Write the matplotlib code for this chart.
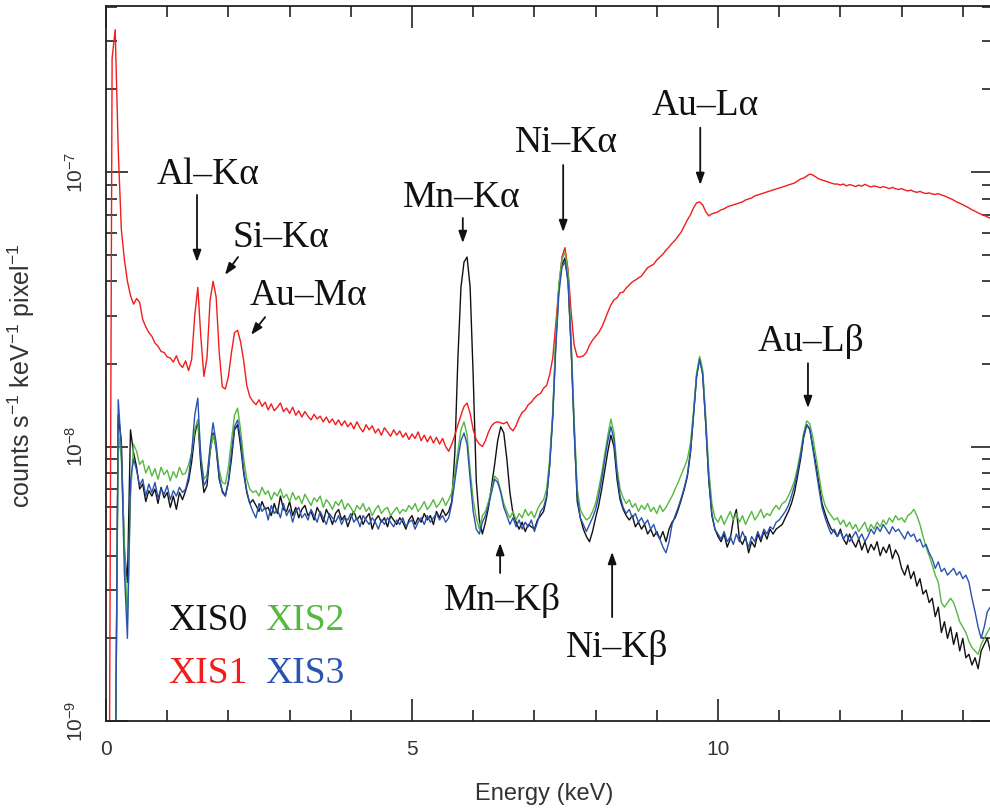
import numpy as np
import matplotlib
matplotlib.use("Agg")
import matplotlib.pyplot as plt
from matplotlib.ticker import LogLocator, MultipleLocator, NullFormatter

# bin width of the spectra (keV); values below are in units of 1e-9 counts/s/keV/pixel
bin_kev = 0.05

# XIS1 (red), one row = 0.5 keV
xis1 = [
    0.3, 0.3, 260, 330, 120, 62, 48, 40, 35.5, 33,
    34.6, 33.5, 29, 27.3, 26, 25.2, 23.8, 23.2, 22.2, 22.0,
    21.2, 21.0, 20.3, 21.4, 20.0, 19.4, 20.5, 18.9, 20.8, 30,
    38, 25, 18, 21, 34, 40, 35, 22, 16.5, 16.2,
    18, 22, 26, 26.5, 24, 20.5, 16.7, 15.2, 14.6, 14.2,
    14.8, 14.0, 14.5, 13.6, 14.3, 13.5, 13.9, 14.4, 13.4, 13.8,
    13.2, 13.9, 13.0, 13.5, 12.8, 13.4, 12.9, 12.5, 13.1, 12.6,
    12.9, 12.3, 12.8, 12.2, 12.6, 12.0, 12.5, 11.9, 12.4, 11.8,
    12.2, 11.6, 12.3, 11.7, 11.3, 12.0, 11.5, 11.9, 11.2, 11.6,
    11.0, 11.7, 11.3, 10.9, 11.5, 11.0, 11.4, 10.8, 11.2, 10.6,
    11.1, 10.7, 11.3, 10.5, 11.0, 10.4, 10.9, 10.3, 10.8, 10.2,
    10.7, 10.0, 9.6, 10.2, 11.0, 12.0, 13.0, 14.0, 14.4, 13.2,
    11.5, 10.6, 10.2, 10.0, 10.5, 11.3, 11.9, 12.2, 12.3, 12.2,
    12.1, 12.3, 11.7, 11.4, 11.9, 12.7, 13.3, 13.6, 14.2, 14.5,
    15.0, 15.4, 15.6, 16.3, 16.7, 18.3, 21, 28, 38, 49,
    53, 44, 31, 23.4, 21.2, 21.2, 21.4, 22.0, 23.4, 24.4,
    25.2, 26.0, 27.2, 28.9, 30.9, 32.8, 34.2, 34.8, 36.3, 36.5,
    37.8, 38.8, 39.8, 40.4, 41.1, 41.8, 43.3, 44.8, 45.5, 46.2,
    47.8, 49.0, 50.2, 51.9, 53.3, 55.0, 56.5, 58.4, 60.5, 63.6,
    66.9, 69.8, 74.0, 77.2, 77.8, 75.9, 71.6, 69.2, 70.4, 71.0,
    71.6, 72.8, 73.4, 74.6, 75.3, 75.9, 76.5, 77.2, 77.8, 79.1,
    79.8, 80.4, 81.8, 82.5, 83.2, 83.9, 84.6, 85.3, 86.0, 86.7,
    87.5, 88.2, 88.9, 89.7, 90.4, 91.2, 92.7, 94.3, 95.1, 96.7,
    98.3, 97.5, 95.9, 94.3, 93.5, 92.7, 91.9, 91.2, 90.4, 90.4,
    89.7, 90.4, 89.0, 90.0, 89.3, 88.5, 89.6, 88.8, 90.2, 89.1,
    88.2, 89.0, 88.4, 87.6, 88.5, 87.8, 87.0, 87.9, 86.9, 86.3,
    87.0, 86.0, 85.3, 85.9, 84.9, 84.3, 85.0, 84.0, 83.5, 83.9,
    83.2, 82.8, 83.4, 82.5, 81.8, 80.9, 80.0, 79.0, 77.8, 77.0,
    76.0, 75.0, 74.0, 72.8, 72.0, 71.0, 70.2, 69.5, 68.6, 67.8,
    67.2,
]

# XIS0 (black)
xis0 = [
    0.3, 0.3, 0.3, 0.5, 13, 10.5, 4.2, 3.2, 11.5, 9.5,
    8.4, 7.0, 7.3, 6.3, 6.9, 6.6, 7.0, 6.2, 7.1, 6.5,
    6.8, 6.0, 6.6, 5.9, 6.8, 6.4, 6.9, 7.5, 8.8, 11.0,
    12.5, 8.5, 6.8, 7.2, 9.5, 11.2, 9.8, 7.6, 6.9, 6.6,
    7.4, 9.0, 11.5, 12.0, 10.0, 8.0, 6.8, 6.2, 6.4, 6.1,
    5.8, 6.3, 5.9, 6.0, 5.6, 6.2, 5.7, 6.6, 5.9, 5.8,
    6.3, 5.6, 6.0, 5.5, 5.9, 6.1, 5.6, 5.8, 5.4, 6.0,
    5.7, 5.3, 5.9, 5.6, 5.2, 5.7, 5.9, 5.4, 5.6, 5.1,
    5.5, 5.8, 5.4, 5.6, 5.2, 5.5, 5.7, 5.0, 5.4, 5.6,
    5.3, 5.5, 5.1, 5.6, 5.4, 5.2, 5.5, 5.3, 5.0, 5.4,
    5.6, 5.2, 5.5, 5.3, 5.7, 5.4, 5.6, 5.2, 5.8, 5.5,
    5.9, 5.6, 5.8, 6.3, 9.5, 21, 38, 47, 49, 38,
    18, 7.5, 5.4, 4.8, 5.3, 6.0, 7.2, 8.6, 10.5, 11.8,
    11.2, 9.0, 6.8, 5.7, 5.3, 5.0, 5.3, 4.9, 5.2, 5.1,
    5.0, 5.4, 5.6, 5.8, 6.5, 8.7, 13, 24, 38, 46,
    48.6, 40, 23, 11.5, 6.3, 5.5, 5.0, 4.7, 4.5, 4.9,
    5.5, 6.1, 7.0, 8.2, 9.6, 11.0, 10.0, 7.6, 6.4, 5.9,
    5.6, 5.4, 5.6, 5.1, 5.3, 5.0, 5.2, 4.8, 5.0, 4.7,
    4.9, 4.6, 4.9, 4.5, 5.0, 5.3, 5.5, 5.9, 6.4, 7.0,
    7.8, 9.5, 13.0, 18.0, 21.0, 18.5, 12.0, 7.5, 5.6, 5.0,
    4.7, 4.5, 4.8, 4.3, 4.6, 5.4, 5.9, 4.6, 4.4, 4.7,
    4.1, 4.5, 4.3, 4.8, 4.5, 4.9, 4.6, 5.0, 4.8, 5.0,
    5.1, 5.2, 5.5, 5.8, 6.2, 6.8, 7.8, 9.0, 10.8, 12.0,
    11.6, 10.0, 8.6, 7.3, 6.2, 5.7, 5.3, 5.0, 4.9, 4.7,
    5.0, 4.6, 4.4, 4.8, 4.5, 4.3, 4.6, 4.2, 4.5, 4.1,
    4.4, 4.2, 4.5, 4.0, 4.3, 4.1, 4.4, 3.9, 4.2, 4.0,
    3.6, 3.4, 3.7, 3.3, 3.5, 3.1, 3.3, 2.9, 3.0, 2.7,
    2.8, 2.4, 2.6, 2.1, 2.3, 2.0, 2.2, 1.9, 2.1, 1.8,
    2.0, 1.7, 1.75, 1.6, 1.7, 1.55, 1.8, 1.9, 2.0, 1.8,
    1.9,
]

# XIS2 (green)
xis2 = [
    0.3, 0.3, 0.3, 0.5, 11.5, 9.0, 4.5, 2.3, 6.5, 10.2,
    9.6, 8.6, 8.9, 8.0, 8.5, 7.8, 8.3, 7.6, 8.4, 7.9,
    8.2, 7.5, 8.1, 7.7, 8.4, 7.9, 8.0, 8.6, 9.5, 11.5,
    12.5, 9.3, 7.6, 7.9, 9.6, 11.0, 10.0, 8.2, 7.4, 7.3,
    8.4, 10.5, 13.0, 13.8, 11.5, 9.0, 7.6, 7.0, 6.8, 6.9,
    6.6, 7.1, 6.7, 6.9, 6.4, 6.8, 6.6, 7.0, 6.5, 6.7,
    6.3, 6.8, 6.4, 6.6, 6.2, 6.7, 6.4, 6.1, 6.5, 6.3,
    6.6, 6.0, 6.4, 6.2, 5.9, 6.3, 6.1, 6.4, 5.9, 6.2,
    6.0, 5.7, 6.1, 5.9, 6.2, 5.8, 6.0, 5.6, 5.9, 6.1,
    5.7, 5.9, 6.0, 5.6, 5.8, 6.0, 5.7, 5.9, 5.8, 6.1,
    5.9, 6.2, 5.8, 6.0, 6.3, 5.9, 6.1, 6.4, 6.0, 6.2,
    6.5, 6.1, 6.4, 6.8, 8.0, 9.6, 11.5, 12.3, 11.0, 8.2,
    6.4, 5.5, 5.0, 5.6, 5.8, 6.3, 7.0, 7.8, 7.6, 6.9,
    6.2, 5.8, 5.5, 5.8, 5.4, 5.7, 5.5, 5.9, 5.6, 5.8,
    5.5, 5.9, 6.2, 6.4, 7.0, 9.0, 13.5, 25, 39, 48,
    51, 43, 25, 12.5, 7.0, 5.9, 5.6, 5.4, 5.5, 5.8,
    6.2, 7.0, 8.0, 9.4, 11.0, 12.6, 11.2, 8.4, 7.0, 6.5,
    6.2, 6.4, 6.0, 6.2, 5.8, 6.1, 5.9, 6.2, 5.8, 6.0,
    5.7, 6.1, 5.8, 6.0, 6.3, 6.6, 7.0, 7.4, 7.9, 8.4,
    9.0, 10.3, 13.5, 18.5, 21.3, 19.0, 12.8, 8.2, 6.2, 5.5,
    5.3, 5.6, 5.2, 5.5, 5.8, 5.4, 5.7, 5.3, 5.6, 5.2,
    5.5, 5.8, 5.4, 5.6, 5.9, 5.5, 5.7, 5.6, 5.9, 6.1,
    5.9, 6.2, 6.3, 6.6, 7.0, 7.5, 8.4, 9.6, 11.2, 12.4,
    12.1, 10.8, 9.2, 7.8, 6.7, 6.1, 5.8, 5.6, 5.4, 5.5,
    5.2, 5.4, 5.1, 5.3, 5.0, 5.2, 4.9, 5.1, 5.3, 4.9,
    5.2, 5.0, 5.3, 5.1, 5.4, 5.2, 5.5, 5.3, 5.6, 5.4,
    5.5, 5.3, 5.6, 5.7, 5.9, 5.6, 5.2, 4.7, 4.3, 4.0,
    3.7, 3.4, 3.2, 2.7, 2.6, 2.7, 2.8, 2.7, 2.5, 2.3,
    2.2, 2.1, 1.95, 1.85, 1.8, 1.75, 1.9, 2.0, 2.1, 2.2,
    2.2,
]

# XIS3 (blue)
xis3 = [
    0.3, 0.3, 0.3, 0.5, 14.8, 10.0, 3.5, 2.0, 7.5, 9.0,
    8.2, 7.2, 7.6, 6.6, 7.3, 6.8, 7.4, 6.5, 7.0, 6.7,
    7.2, 6.4, 6.9, 6.6, 7.1, 6.8, 7.0, 7.8, 9.5, 13.0,
    15.0, 9.0, 7.2, 7.6, 10.0, 12.2, 10.3, 7.8, 6.8, 6.6,
    7.5, 9.5, 11.8, 12.5, 10.5, 8.2, 6.9, 6.2, 5.8, 5.5,
    6.2, 5.8, 6.0, 5.4, 6.1, 5.7, 5.9, 5.5, 6.2, 5.6,
    5.9, 5.3, 5.8, 6.0, 5.5, 5.7, 5.4, 5.9, 5.6, 5.3,
    5.8, 5.5, 5.2, 5.7, 5.5, 5.3, 5.6, 5.2, 5.5, 5.4,
    5.7, 5.3, 5.5, 5.1, 5.6, 5.4, 5.2, 5.5, 5.3, 5.0,
    5.4, 5.2, 5.5, 5.3, 5.1, 5.4, 5.2, 5.5, 5.1, 5.3,
    5.4, 5.0, 5.3, 5.5, 5.2, 5.6, 5.3, 5.5, 5.7, 5.4,
    5.6, 5.3, 5.5, 6.2, 7.5, 9.0, 10.5, 11.2, 10.2, 7.6,
    5.8, 5.0, 4.8, 5.3, 5.6, 6.1, 6.8, 7.6, 7.4, 6.8,
    6.0, 5.6, 5.2, 5.5, 5.1, 5.4, 5.0, 5.3, 5.1, 5.4,
    4.9, 5.3, 5.8, 6.0, 6.6, 8.5, 12.8, 23, 36, 45,
    47, 40, 23, 11.5, 6.6, 5.5, 5.2, 4.9, 5.2, 5.5,
    5.9, 6.6, 7.6, 9.0, 10.5, 11.8, 10.6, 8.0, 6.6, 6.0,
    5.7, 5.9, 5.5, 5.7, 5.3, 5.5, 5.2, 5.4, 5.0, 5.2,
    4.8, 4.6, 4.3, 4.1, 4.5, 5.2, 5.6, 6.0, 6.5, 7.1,
    7.9, 9.6, 13.0, 18.0, 20.8, 18.2, 12.2, 7.6, 5.7, 5.0,
    4.8, 4.6, 4.9, 4.5, 4.7, 4.4, 4.8, 4.5, 4.9, 4.6,
    4.3, 4.7, 4.5, 4.9, 4.6, 5.0, 4.8, 5.1, 5.0, 5.3,
    5.4, 5.6, 5.8, 6.1, 6.6, 7.2, 8.1, 9.3, 11.0, 12.0,
    11.5, 9.8, 8.3, 7.0, 6.0, 5.5, 5.1, 4.8, 5.0, 4.7,
    4.9, 4.6, 4.8, 4.5, 4.7, 4.9, 4.6, 4.8, 4.5, 4.7,
    5.0, 4.8, 5.1, 4.9, 5.2, 5.0, 4.8, 5.1, 4.9, 5.0,
    4.8, 4.6, 4.9, 4.7, 4.8, 4.5, 4.6, 4.3, 4.4, 4.1,
    3.9, 3.6, 3.8, 3.5, 3.6, 3.4, 3.5, 3.6, 3.4, 3.5,
    3.3, 3.4, 3.2, 2.8, 2.5, 2.2, 2.0, 2.2, 2.5, 2.6,
    2.5,
]

# line labels: (text, text x keV, text baseline, arrow start, arrow end) -> y in 1e-9 units
linie = [
    ("Al\u2013K\u03b1", 1.667, 90.4, (1.487, 82.5), (1.487, 47.0)),
    ("Si\u2013K\u03b1", 2.86, 53.3, (2.157, 49.0), (1.944, 42.2)),
    ("Au\u2013M\u03b1", 3.30, 32.8, (2.60, 29.6), (2.37, 25.5)),
    ("Mn\u2013K\u03b1", 5.817, 74.6, (5.83, 68.0), (5.83, 55.1)),
    ("Ni\u2013K\u03b1", 7.516, 118.3, (7.47, 106.0), (7.47, 60.4)),
    ("Au\u2013L\u03b1", 9.788, 161.3, (9.71, 145.0), (9.71, 89.7)),
    ("Au\u2013L\u03b2", 11.52, 22.3, (11.47, 20.1), (11.47, 13.8)),
    ("Mn\u2013K\u03b2", 6.47, 2.54, (6.44, 3.46), (6.44, 4.45)),
    ("Ni\u2013K\u03b2", 8.35, 1.71, (8.27, 2.39), (8.27, 4.13)),
]

energia = np.arange(len(xis1)) * bin_kev
skala = 1e-9

plt.rcParams['font.family'] = ['Liberation Sans', 'DejaVu Sans']
plt.rcParams['mathtext.default'] = 'regular'

fig = plt.figure(figsize=(9.9, 8.08), dpi=100)
ax = fig.add_axes([106 / 990, 87 / 808, 887.4 / 990, 715 / 808])

kolory = {"XIS0": "#111111", "XIS1": "#f21c1c", "XIS2": "#55b83f", "XIS3": "#2a52b0"}
ax.plot(energia, np.array(xis0) * skala, color=kolory["XIS0"], lw=1.0)
ax.plot(energia, np.array(xis1) * skala, color=kolory["XIS1"], lw=1.0)
ax.plot(energia, np.array(xis2) * skala, color=kolory["XIS2"], lw=1.0)
ax.plot(energia, np.array(xis3) * skala, color=kolory["XIS3"], lw=1.0)

ax.set_yscale('log')
ax.set_xlim(0, 14.5)
ax.set_ylim(1e-9, 4.025e-7)

ax.xaxis.set_major_locator(MultipleLocator(5))
ax.xaxis.set_minor_locator(MultipleLocator(1))
ax.set_yticks([1e-9, 1e-8, 1e-7])
ax.set_yticklabels([r'10$^{-9}$', r'10$^{-8}$', r'10$^{-7}$'], rotation=90, va='center')
ax.yaxis.set_minor_locator(LogLocator(base=10, subs=np.arange(2, 10)))
ax.yaxis.set_minor_formatter(NullFormatter())
ax.tick_params(which='both', direction='in', top=True, right=True, width=1.2, colors='#222222',
               labelsize=15, labelcolor='#333333')
ax.tick_params(which='major', length=16, pad=14)
ax.tick_params(which='minor', length=8)
ax.tick_params(axis='y', which='major', pad=14)
for s in ax.spines.values():
    s.set_linewidth(1.3)
    s.set_color('#222222')

ax.set_xlabel("Energy (keV)", fontsize=17, color='#333333')
ax.set_ylabel(r"counts s$^{-1}$ keV$^{-1}$ pixel$^{-1}$", fontsize=18, color='#333333')
ax.xaxis.set_label_coords(0.4936, -0.0867)
ax.yaxis.set_label_coords(-0.0778, 0.4825)

serif = ['Liberation Serif', 'DejaVu Serif']
for tekst, tx, ty, start, koniec in linie:
    ax.text(tx, ty * skala, tekst, ha='center', va='baseline', fontsize=27, family=serif, color='#111111')
    ax.annotate("", xy=(koniec[0], koniec[1] * skala), xytext=(start[0], start[1] * skala),
                arrowprops=dict(arrowstyle='-|>,head_length=0.7,head_width=0.25', color='#111111',
                                lw=1.3, shrinkA=0, shrinkB=0, mutation_scale=10))

# legend drawn as coloured words
ax.text(1.013, 2.145e-9, "XIS0", color=kolory["XIS0"], fontsize=27, family=serif, va='baseline')
ax.text(2.60, 2.145e-9, "XIS2", color=kolory["XIS2"], fontsize=27, family=serif, va='baseline')
ax.text(1.013, 1.375e-9, "XIS1", color=kolory["XIS1"], fontsize=27, family=serif, va='baseline')
ax.text(2.60, 1.375e-9, "XIS3", color=kolory["XIS3"], fontsize=27, family=serif, va='baseline')

fig.savefig("out.png", dpi=100)
